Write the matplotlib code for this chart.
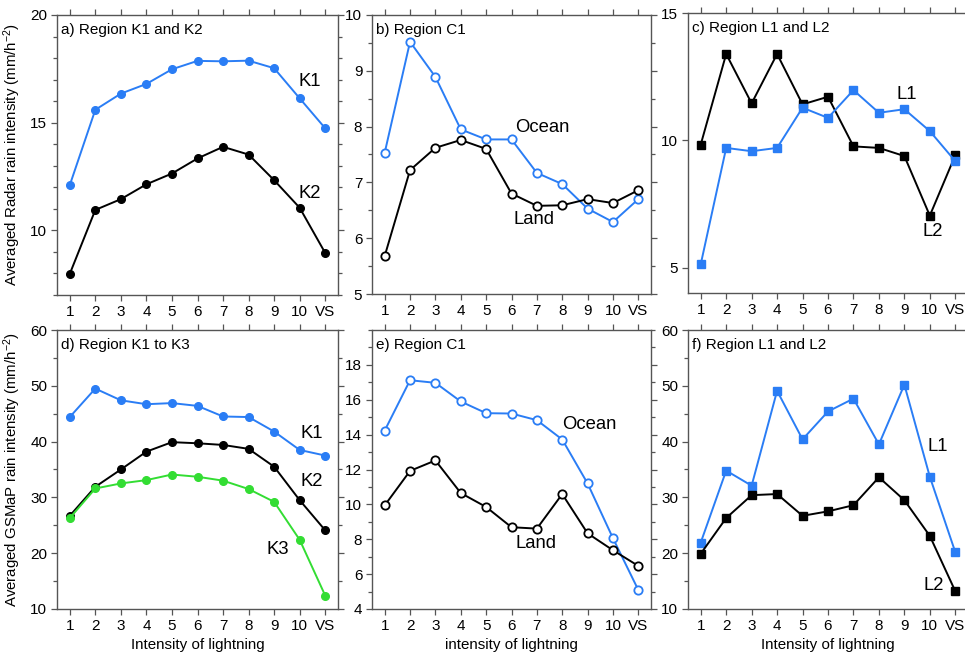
import matplotlib
matplotlib.use("Agg")
import matplotlib.pyplot as plt
from matplotlib.ticker import MultipleLocator

plt.rcParams["font.family"] = ["Liberation Sans", "DejaVu Sans"]
plt.rcParams["mathtext.fontset"] = "custom"
plt.rcParams["mathtext.rm"] = "Liberation Sans"
plt.rcParams["mathtext.it"] = "Liberation Sans:italic"

x_labels = ["1", "2", "3", "4", "5", "6", "7", "8", "9", "10", "VS"]
x = list(range(1, 12))

# a) radar, region K1 / K2
radar_k1 = [12.1, 15.6, 16.35, 16.8, 17.48, 17.87, 17.85, 17.88, 17.53, 16.13, 14.74]
radar_k2 = [7.98, 10.95, 11.45, 12.14, 12.64, 13.34, 13.88, 13.52, 12.33, 11.05, 8.95]

# b) radar, region C1
radar_c1_ocean = [7.53, 9.52, 8.89, 7.95, 7.77, 7.77, 7.17, 6.97, 6.53, 6.29, 6.70]
radar_c1_land = [5.68, 7.22, 7.62, 7.76, 7.60, 6.80, 6.58, 6.59, 6.70, 6.63, 6.86]

# c) radar, region L1 / L2
radar_l1 = [5.13, 9.70, 9.57, 9.70, 11.28, 10.88, 11.97, 11.08, 11.22, 10.36, 9.18]
radar_l2 = [9.83, 13.39, 11.45, 13.39, 11.41, 11.71, 9.76, 9.70, 9.38, 7.04, 9.41]

# d) GSMaP, region K1 to K3
gsmap_k1 = [44.4, 49.5, 47.4, 46.7, 46.9, 46.4, 44.5, 44.4, 41.8, 38.5, 37.5]
gsmap_k2 = [26.7, 31.9, 35.0, 38.2, 39.9, 39.7, 39.4, 38.7, 35.5, 29.5, 24.1]
gsmap_k3 = [26.3, 31.6, 32.5, 33.1, 34.1, 33.7, 33.0, 31.5, 29.2, 22.4, 12.4]

# e) GSMaP, region C1
gsmap_c1_ocean = [14.23, 17.12, 16.97, 15.90, 15.23, 15.21, 14.83, 13.72, 11.20, 8.06, 5.09]
gsmap_c1_land = [9.94, 11.92, 12.52, 10.65, 9.85, 8.69, 8.61, 10.59, 8.34, 7.37, 6.47]

# f) GSMaP, region L1 / L2
gsmap_l1 = [21.9, 34.8, 32.1, 49.1, 40.4, 45.4, 47.7, 39.5, 50.2, 33.7, 20.2]
gsmap_l2 = [19.9, 26.3, 30.4, 30.6, 26.7, 27.5, 28.6, 33.6, 29.5, 23.1, 13.2]

BLUE = "#2a7df5"
GREEN = "#33dd33"
FRAME = "#555555"

W, H = 965, 658
fig = plt.figure(figsize=(W / 100, H / 100), dpi=100)


def make_ax(left, right, top, bottom):
    return fig.add_axes([left / W, (H - bottom) / H, (right - left) / W, (bottom - top) / H])


def style(ax, ylim, major, minor, title):
    ax.set_xlim(0.5, 11.5)
    ax.set_ylim(*ylim)
    ax.set_xticks(x)
    ax.set_xticklabels(x_labels)
    ax.yaxis.set_major_locator(MultipleLocator(major))
    ax.yaxis.set_minor_locator(MultipleLocator(minor))
    ax.tick_params(which="both", direction="out", top=True, right=True,
                   labelsize=11, color=FRAME, width=0.9, pad=3)
    ax.tick_params(which="major", length=4)
    ax.tick_params(which="minor", length=3)
    for s in ax.spines.values():
        s.set_color(FRAME)
        s.set_linewidth(1.0)
    ax.text(0.015, 0.945, title, transform=ax.transAxes, fontsize=11,
            ha="left", va="center")


def filled(ax, y, color):
    ax.plot(x, y, "-o", color=color, lw=1.4, ms=5.5, mec=color, mfc=color)


def hollow(ax, y, color):
    ax.plot(x, y, "-o", color=color, lw=1.4, ms=6, mec=color, mfc="white", mew=1.3)


def square(ax, y, color):
    ax.plot(x, y, "-s", color=color, lw=1.4, ms=5.5, mec=color, mfc=color)


lab = dict(fontsize=13.3, ha="center", va="center")

# a
ax = make_ax(57, 338, 15, 295)
filled(ax, radar_k1, BLUE)
filled(ax, radar_k2, "black")
style(ax, (7, 20), 5, 1, "a) Region K1 and K2")
ax.text(10.4, 16.9, "K1", **lab)
ax.text(10.4, 11.7, "K2", **lab)
ax.set_ylabel("Averaged Radar rain intensity (mm/h$^{-2}$)", fontsize=10.8, labelpad=5)

# b
ax = make_ax(372, 651, 15, 294)
hollow(ax, radar_c1_ocean, BLUE)
hollow(ax, radar_c1_land, "black")
style(ax, (5, 10), 1, 0.5, "b) Region C1")
ax.text(7.2, 7.98, "Ocean", **lab)
ax.text(6.9, 6.33, "Land", **lab)

# c
ax = make_ax(688, 968, 13, 293)
square(ax, radar_l2, "black")
square(ax, radar_l1, BLUE)
style(ax, (4, 15), 5, 5, "c) Region L1 and L2")
ax.text(9.1, 11.8, "L1", **lab)
ax.text(10.1, 6.4, "L2", **lab)

# d
ax = make_ax(57, 338, 330, 609)
filled(ax, gsmap_k1, BLUE)
filled(ax, gsmap_k2, "black")
filled(ax, gsmap_k3, GREEN)
style(ax, (10, 60), 10, 5, "d) Region K1 to K3")
ax.text(10.47, 41.5, "K1", **lab)
ax.text(10.47, 32.8, "K2", **lab)
ax.text(9.16, 20.6, "K3", **lab)
ax.set_ylabel("Averaged GSMaP rain intensity (mm/h$^{-2}$)", fontsize=10.8, labelpad=5)
ax.set_xlabel("Intensity of lightning", fontsize=10.9, labelpad=4)

# e
ax = make_ax(372, 651, 330, 609)
hollow(ax, gsmap_c1_ocean, BLUE)
hollow(ax, gsmap_c1_land, "black")
style(ax, (4, 20), 2, 1, "e) Region C1")
ax.set_yticks([4, 6, 8, 10, 12, 14, 16, 18])
ax.text(9.06, 14.6, "Ocean", **lab)
ax.text(6.97, 7.73, "Land", **lab)
ax.set_xlabel("intensity of lightning", fontsize=10.9, labelpad=4)

# f
ax = make_ax(688, 968, 330, 609)
square(ax, gsmap_l1, BLUE)
square(ax, gsmap_l2, "black")
style(ax, (10, 60), 10, 5, "f) Region L1 and L2")
ax.text(10.33, 39.1, "L1", **lab)
ax.text(10.14, 14.3, "L2", **lab)
ax.set_xlabel("Intensity of lightning", fontsize=10.9, labelpad=4)

fig.savefig("out.png", dpi=100)
